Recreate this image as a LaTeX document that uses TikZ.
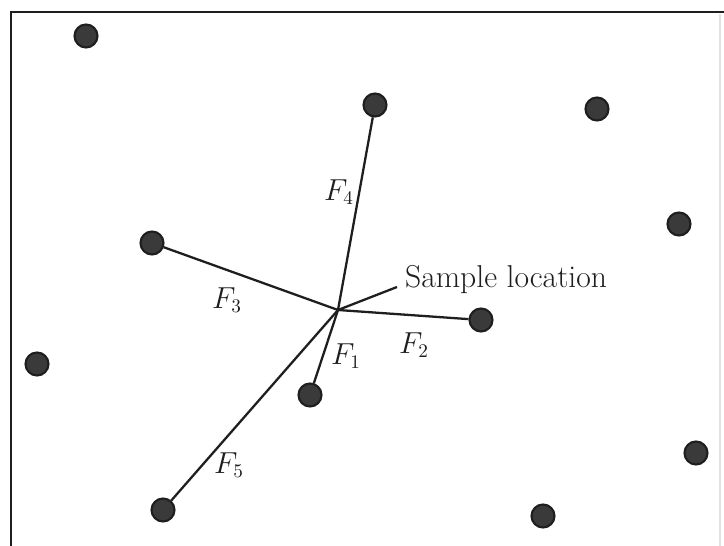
\documentclass[tikz,border=0pt]{standalone}
\usetikzlibrary{positioning}
\definecolor{Ink}{HTML}{1E1E1E}
\definecolor{DotFill}{HTML}{3A3A3A}
\definecolor{EdgeFaint}{HTML}{E2E2E2}
\tikzset{
  site/.style={circle,fill=DotFill,draw=Ink,line width=1.2pt,inner sep=0pt,minimum size=4.6mm},
  ray/.style={Ink,line width=1.3pt},
  flab/.style={font=\fontsize{16}{18}\selectfont,text=Ink,inner sep=1pt},
}

\begin{document}
\begin{tikzpicture}[x=0.02cm,y=-0.02cm]
  \useasboundingbox (0,0) rectangle (724,546);
  % frame
  \draw[Ink,line width=1.4pt] (11,546) -- (11,12) -- (724,12);
  \draw[EdgeFaint,line width=0.8pt] (720,14) -- (720,546);
  % sample location and its neighbours
  \coordinate (s) at (338,310);
  \foreach \n/\x/\y in {1/310/395, 2/481/320, 3/152/243, 4/375/105, 5/163/510} {
    \node[site] (f\n) at (\x,\y) {};
    \draw[ray] (s) -- (f\n);
  }
  % other points
  \foreach \n/\x/\y in {a/86/36, b/597/109, c/679/224, d/37/364, e/696/453, f/543/516} {
    \node[site] (o\n) at (\x,\y) {};
  }
  \node[flab] (l1) at (346,356) {$F_1$};
  \node[flab] (l2) at (414,345) {$F_2$};
  \node[flab] (l3) at (227,300) {$F_3$};
  \node[flab] (l4) at (339,192) {$F_4$};
  \node[flab] (l5) at (229,465) {$F_5$};
  \node[flab,anchor=west,font=\fontsize{18}{20}\selectfont] (samp) at (403,280) {Sample location};
  \draw[ray] (s) -- ([shift={(-6,7)}]samp.west);
\end{tikzpicture}
\end{document}
